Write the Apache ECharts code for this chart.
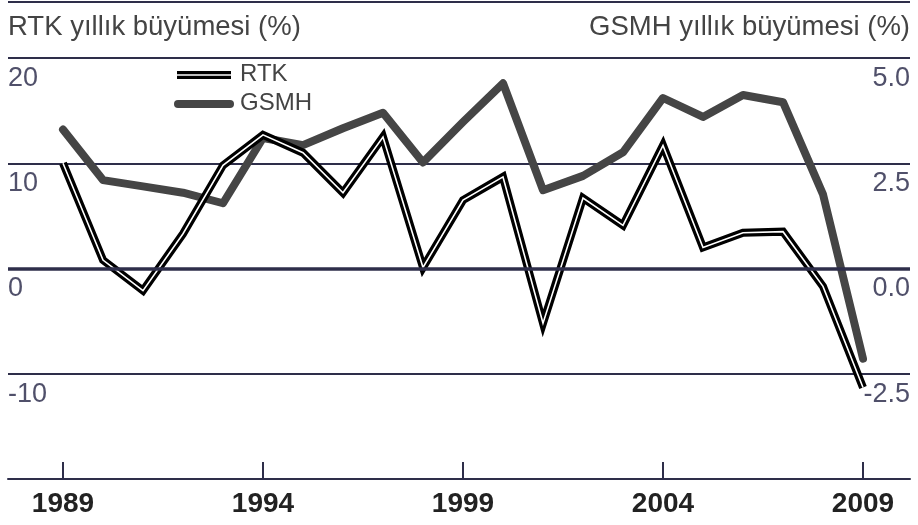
<!DOCTYPE html>
<html>
<head>
<meta charset="utf-8">
<script src="https://cdn.jsdelivr.net/npm/echarts@6/dist/echarts.min.js"></script>
<style>
  html, body { margin: 0; padding: 0; background: #fff; }
  #chart { width: 918px; height: 525px; }
</style>
</head>
<body>
<div id="chart"></div>
<script>
// yıllar ve seriler
var years = [1989, 1990, 1991, 1992, 1993, 1994, 1995, 1996, 1997, 1998, 1999,
             2000, 2001, 2002, 2003, 2004, 2005, 2006, 2007, 2008, 2009];
var rtk = [10.0, 0.8, -2.1, 3.3, 9.8, 12.7, 11.0, 7.2, 12.5, 0.1, 6.5,
           8.7, -5.2, 6.7, 4.1, 11.7, 2.0, 3.4, 3.5, -1.7, -11.3];
var gsmh = [3.3, 2.1, 1.95, 1.8, 1.55, 3.1, 2.93, 3.33, 3.7, 2.52, 3.48,
            4.4, 1.86, 2.2, 2.76, 4.05, 3.6, 4.12, 3.95, 1.76, -2.14];
var yearTicks = [1989, 1994, 1999, 2004, 2009];

var FONT = "'Liberation Sans', Arial, sans-serif";
var LINE = '#2e2e4a';
var LABEL = '#50506a';

function pairs(vals) {
    return years.map(function (y, i) { return [y, vals[i]]; });
}

var myChart = echarts.init(document.getElementById('chart'));

myChart.setOption({
    animation: false,
    grid: { left: 8, right: 8, top: 58, bottom: 46 },
    xAxis: {
        type: 'value',
        min: 1987.625,
        max: 2010.175,
        axisLine: { show: true, onZero: false, lineStyle: { color: LINE, width: 2 } },
        axisTick: {
            show: true, inside: true, length: 17,
            customValues: yearTicks,
            lineStyle: { color: LINE, width: 2 }
        },
        axisLabel: {
            customValues: yearTicks,
            margin: 11,
            fontFamily: FONT, fontSize: 28, fontWeight: 'bold', color: '#222',
            formatter: function (v) { return String(v); }
        },
        splitLine: { show: false }
    },
    yAxis: [
        {
            type: 'value', position: 'left',
            min: -20, max: 20, interval: 10,
            axisLine: { show: false }, axisTick: { show: false },
            axisLabel: {
                inside: true, margin: 0, verticalAlign: 'top', padding: [7, 0, 0, 0],
                fontFamily: FONT, fontSize: 27, color: LABEL,
                formatter: function (v) { return v === -20 ? '' : String(v); }
            },
            splitLine: { show: true, lineStyle: { color: LINE, width: 2 } }
        },
        {
            type: 'value', position: 'right',
            min: -5, max: 5, interval: 2.5,
            axisLine: { show: false }, axisTick: { show: false },
            axisLabel: {
                inside: true, margin: 0, verticalAlign: 'top', padding: [7, 0, 0, 0],
                fontFamily: FONT, fontSize: 27, color: LABEL,
                formatter: function (v) { return v === -5 ? '' : v.toFixed(1); }
            },
            splitLine: { show: false }
        }
    ],
    series: [
        {
            name: 'GSMH', type: 'line', yAxisIndex: 1,
            data: pairs(gsmh), symbol: 'none',
            lineStyle: { color: '#454545', width: 8, join: 'round', cap: 'round' },
            z: 2
        },
        {
            name: 'RTK', type: 'line', yAxisIndex: 0,
            data: pairs(rtk), symbol: 'none',
            lineStyle: { color: '#000', width: 8, join: 'miter' },
            markLine: {
                silent: true, symbol: 'none', label: { show: false },
                lineStyle: { color: LINE, width: 3.5, type: 'solid' },
                data: [{ yAxis: 0 }]
            },
            z: 3
        },
        {
            name: 'RTK-ic', type: 'line', yAxisIndex: 0,
            data: pairs(rtk), symbol: 'none',
            lineStyle: { color: '#fff', width: 1.6, join: 'miter' },
            z: 4
        }
    ],
    graphic: [
        { type: 'line', shape: { x1: 8, y1: 2, x2: 910, y2: 2 },
          style: { stroke: LINE, lineWidth: 2 } },
        { type: 'text', left: 8, top: 13,
          style: { text: 'RTK yıllık büyümesi (%)', font: '27.5px ' + FONT, fill: '#444' } },
        { type: 'text', right: 8, top: 13,
          style: { text: 'GSMH yıllık büyümesi (%)', font: '27.5px ' + FONT, fill: '#444' } },
        // lejant
        { type: 'line', shape: { x1: 177, y1: 75, x2: 231, y2: 75 },
          style: { stroke: '#000', lineWidth: 8 }, z: 10 },
        { type: 'line', shape: { x1: 177, y1: 75, x2: 231, y2: 75 },
          style: { stroke: '#fff', lineWidth: 1.6 }, z: 11 },
        { type: 'text', left: 240, top: 62,
          style: { text: 'RTK', font: '24px ' + FONT, fill: '#444' }, z: 10 },
        { type: 'line', shape: { x1: 178, y1: 104, x2: 230, y2: 104 },
          style: { stroke: '#454545', lineWidth: 8, lineCap: 'round' }, z: 10 },
        { type: 'text', left: 240, top: 91,
          style: { text: 'GSMH', font: '24px ' + FONT, fill: '#444' }, z: 10 }
    ]
});
</script>
</body>
</html>
